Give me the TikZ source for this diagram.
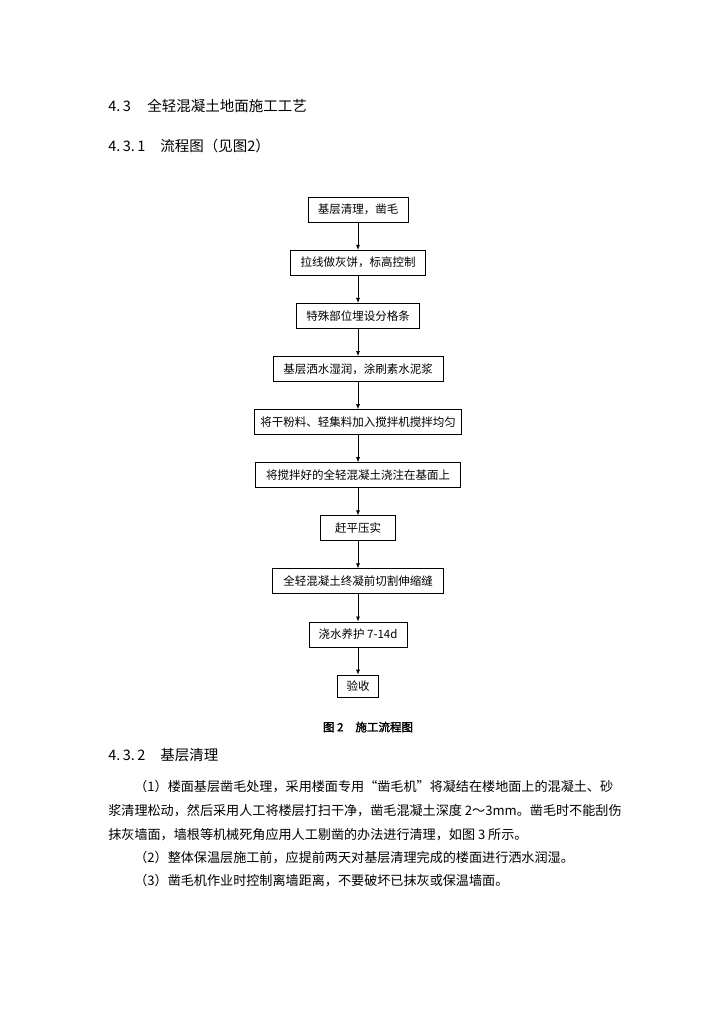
\documentclass[tikz,border=0pt]{standalone}
\usepackage{fontspec}
\newfontfamily\cjk{Noto Sans CJK SC}
\newfontfamily\cjkbold[FakeBold=1.6]{Noto Sans CJK SC}
\usetikzlibrary{positioning,arrows.meta}

\begin{document}
\begin{tikzpicture}[x=1pt, y=-1pt, line width=0.6pt,
    stepbox/.style={draw, minimum height=25pt, inner xsep=2pt, font=\cjk\fontsize{11.5}{12}\selectfont},
    flow/.style={-{Latex[length=5pt,width=4pt]}},
    head/.style={anchor=west, inner sep=0pt, font=\cjk\fontsize{14.5}{15}\selectfont},
    body/.style={anchor=west, inner sep=0pt, font=\cjk\fontsize{13.1}{14}\selectfont},
    node distance=27.5pt]
  \useasboundingbox[fill=white] (0,0) rectangle (724,1024);
  % headings
  \node[head] (n43) at (108,106) {4.\,3};
  \node[head] (t43) at (147,106) {全轻混凝土地面施工工艺};
  \node[head] (n431) at (108,146) {4.\,3.\,1};
  \node[head] (t431) at (160,146) {流程图（见图2）};
  % flow chart
  \node[stepbox, minimum width=100pt] (clean) at (358,209.5) {基层清理，凿毛};
  \node[stepbox, minimum width=135pt, below=of clean] (level) {拉线做灰饼，标高控制};
  \node[stepbox, minimum width=123pt, below=of level] (strip) {特殊部位埋设分格条};
  \node[stepbox, minimum width=170pt, below=of strip] (wet) {基层洒水湿润，涂刷素水泥浆};
  \node[stepbox, minimum width=207pt, below=of wet] (mix) {将干粉料、轻集料加入搅拌机搅拌均匀};
  \node[stepbox, minimum width=205pt, below=of mix] (pour) {将搅拌好的全轻混凝土浇注在基面上};
  \node[stepbox, minimum width=75pt, below=of pour] (press) {赶平压实};
  \node[stepbox, minimum width=171pt, below=of press] (cut) {全轻混凝土终凝前切割伸缩缝};
  \node[stepbox, minimum width=98pt, below=of cut] (cure) {浇水养护 7-14d};
  \node[stepbox, minimum width=41pt, minimum height=22pt, below=of cure] (check) {验收};
  \draw[flow] (clean) -- (level);
  \draw[flow] (level) -- (strip);
  \draw[flow] (strip) -- (wet);
  \draw[flow] (wet) -- (mix);
  \draw[flow] (mix) -- (pour);
  \draw[flow] (pour) -- (press);
  \draw[flow] (press) -- (cut);
  \draw[flow] (cut) -- (cure);
  \draw[flow] (cure) -- (check);
  \node[font=\cjkbold\fontsize{11.5}{12}\selectfont] (caption) at (368,727) {图 2\hspace{12pt}施工流程图};
  % section 4.3.2
  \node[head] (n432) at (108,755) {4.\,3.\,2};
  \node[head] (t432) at (160,755) {基层清理};
  \node[body] (p1) at (134,787) {（1）楼面基层凿毛处理，采用楼面专用“凿毛机”将凝结在楼地面上的混凝土、砂};
  \node[body] (p2) at (108,811) {浆清理松动，然后采用人工将楼层打扫干净，凿毛混凝土深度 2～3mm。凿毛时不能刮伤};
  \node[body] (p3) at (108,835) {抹灰墙面，墙根等机械死角应用人工剔凿的办法进行清理，如图 3 所示。};
  \node[body] (p4) at (134,858) {（2）整体保温层施工前，应提前两天对基层清理完成的楼面进行洒水润湿。};
  \node[body] (p5) at (134,881) {（3）凿毛机作业时控制离墙距离，不要破坏已抹灰或保温墙面。};
\end{tikzpicture}
\end{document}
